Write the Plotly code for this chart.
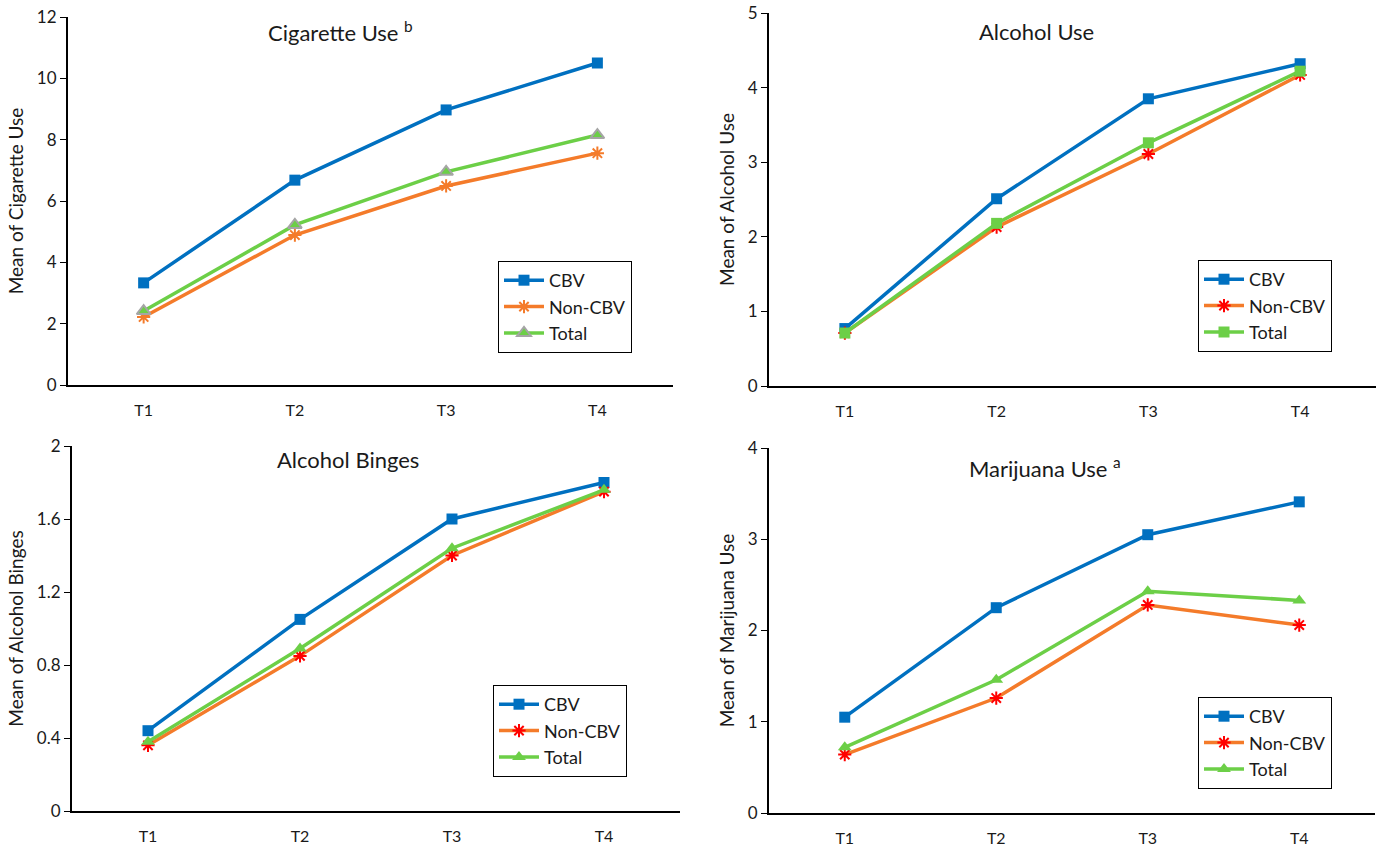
import plotly.graph_objects as go

W, H = 1387, 848

times = ["T1", "T2", "T3", "T4"]
series_names = ["CBV", "Non-CBV", "Total"]

cig_cbv = [3.33, 6.68, 8.97, 10.5]
cig_non = [2.22, 4.89, 6.49, 7.56]
cig_tot = [2.41, 5.22, 6.95, 8.15]

alc_cbv = [0.77, 2.51, 3.85, 4.32]
alc_non = [0.71, 2.13, 3.11, 4.17]
alc_tot = [0.71, 2.18, 3.26, 4.22]

bing_cbv = [0.44, 1.05, 1.60, 1.80]
bing_non = [0.36, 0.85, 1.40, 1.75]
bing_tot = [0.38, 0.89, 1.44, 1.76]

mar_cbv = [1.05, 2.25, 3.05, 3.41]
mar_non = [0.64, 1.26, 2.28, 2.06]
mar_tot = [0.72, 1.46, 2.43, 2.33]

titles = ["Cigarette Use <sup>b</sup>", "Alcohol Use", "Alcohol Binges", "Marijuana Use <sup>a</sup>"]
ytitles = ["Mean of Cigarette Use", "Mean of Alcohol Use", "Mean of Alcohol Binges", "Mean of Marijuana Use"]
yranges = [[0, 12], [0, 5], [0, 2], [0, 4]]
ydticks = [2, 1, 0.4, 1]

BLUE = "#0070C0"
ORANGE = "#F47B2A"
GREEN = "#6CCF47"
RED = "#FF0000"
GRAY = "#A5A5A5"
FONT = "Lato, 'Open Sans', sans-serif"
TXT = "#1a1a1a"

# panel pixel boxes: (left, right, top, bottom)
boxes = [(68, 673, 17, 385), (769, 1376, 13, 386), (72, 680, 446, 811), (769, 1375, 448, 813)]
title_pos = [(340, 31), (1036, 31), (348, 459), (1045, 467)]
legend_pos = [(498, 261), (1198, 260), (493, 685), (1198, 697)]

data = [
    (cig_cbv, cig_non, cig_tot),
    (alc_cbv, alc_non, alc_tot),
    (bing_cbv, bing_non, bing_tot),
    (mar_cbv, mar_non, mar_tot),
]

fig = go.Figure()
layout = dict(
    width=W, height=H, margin=dict(l=0, r=0, t=0, b=0, autoexpand=False),
    paper_bgcolor="white", plot_bgcolor="white",
    font=dict(family=FONT, size=17, color=TXT),
    annotations=[],
)

for i in range(4):
    ax = "" if i == 0 else str(i + 1)
    leg = "legend" if i == 0 else "legend" + str(i + 1)
    cbv, non, tot = data[i]
    non_col = ORANGE if i == 0 else RED
    non_marker = dict(symbol="asterisk-open", size=11, color=non_col,
                      line=dict(color=non_col, width=2))
    if i == 0:
        tot_marker = dict(symbol="triangle-up", size=12, color=GREEN, line=dict(color=GRAY, width=2))
    elif i == 1:
        tot_marker = dict(symbol="square", size=11, color=GREEN, line=dict(width=0))
    else:
        tot_marker = dict(symbol="triangle-up", size=12, color=GREEN, line=dict(width=0))
    specs = [
        (cbv, series_names[0], BLUE, dict(symbol="square", size=11, color=BLUE, line=dict(width=0))),
        (non, series_names[1], ORANGE, non_marker),
        (tot, series_names[2], GREEN, tot_marker),
    ]
    for vals, name, col, mk in specs:
        fig.add_trace(go.Scatter(
            x=times, y=vals, name=name, mode="lines+markers",
            line=dict(color=col, width=3.5), marker=mk,
            xaxis="x" + ax, yaxis="y" + ax, legend=leg,
        ))
    l, r, t, b = boxes[i]
    layout["xaxis" + ax] = dict(
        domain=[l / W, r / W], anchor="y" + ax, type="category",
        range=[-0.5, 3.5], showline=True, linecolor="black", linewidth=2,
        ticks="", showgrid=False, tickfont=dict(size=16, color=TXT),
        zeroline=False, automargin=False, ticklabelstandoff=10,
    )
    layout["yaxis" + ax] = dict(
        domain=[1 - b / H, 1 - t / H], anchor="x" + ax,
        range=yranges[i], dtick=ydticks[i], tick0=0,
        showline=True, linecolor="black", linewidth=2,
        ticks="outside", ticklen=6, tickcolor="black", tickwidth=1,
        showgrid=False, zeroline=False, tickfont=dict(size=17, color=TXT),
        automargin=False,
        title=dict(text=ytitles[i], font=dict(size=19, color=TXT), standoff=8),
    )
    lx, ly = legend_pos[i]
    layout[leg] = dict(
        x=lx / W, y=1 - ly / H, xanchor="left", yanchor="top",
        bordercolor="black", borderwidth=1, bgcolor="white",
        font=dict(size=18, color=TXT), tracegroupgap=0,
        itemwidth=40,
    )
    tx, ty = title_pos[i]
    layout["annotations"].append(dict(
        x=tx / W, y=1 - ty / H, xref="paper", yref="paper",
        text=titles[i], showarrow=False, font=dict(size=22, color=TXT),
        xanchor="center", yanchor="middle",
    ))

fig.update_layout(**layout)
fig.write_html("out.html", config={"displayModeBar": False},
               post_script="document.body.style.margin='0';")
